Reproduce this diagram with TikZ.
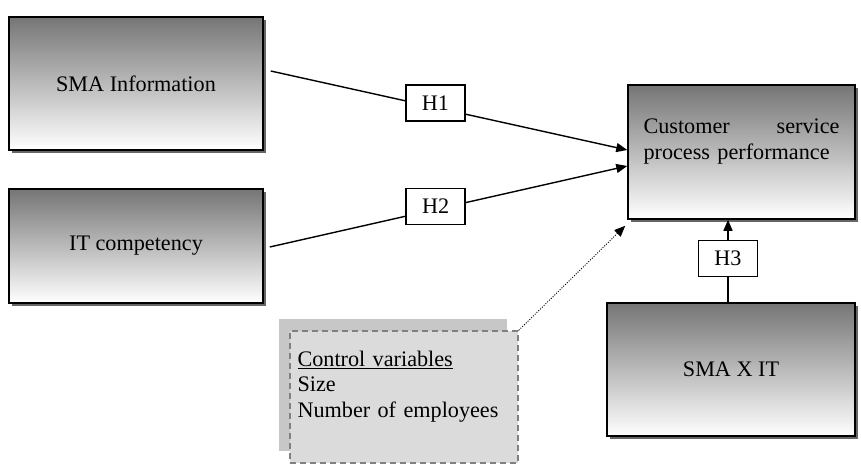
\documentclass[tikz,border=0pt]{standalone}
\usepackage{fontspec}
\setmainfont{Liberation Serif}
\usetikzlibrary{arrows.meta,shadows}

\begin{document}
\begin{tikzpicture}[x=1pt,y=1pt,font=\fontsize{22.2}{25.6}\selectfont,
	var_box/.style={rectangle,draw=black,line width=1.5pt,top color=black!54,bottom color=white,
		drop shadow={shadow xshift=3pt,shadow yshift=-3pt,fill=black!60,opacity=1}},
	hyp_box/.style={rectangle,draw=black,line width=1.3pt,fill=white,minimum width=59pt,minimum height=36pt,inner sep=0pt},
	ctrl_box/.style={rectangle,draw=black!50,line width=1.5pt,dash pattern=on 6pt off 4pt,fill=black!14,
		drop shadow={shadow xshift=-11pt,shadow yshift=12pt,fill=black!22,opacity=1}},
	link/.style={line width=1.4pt,-{Triangle[length=11pt,width=9pt]}}]
		
		\useasboundingbox (0,0) rectangle (861,467);
		
		\node[var_box,minimum width=254pt,minimum height=133pt] (info) at (136,383.5) {SMA Information};
		\node[var_box,minimum width=254pt,minimum height=114pt] (itc) at (136,221) {IT competency};
		\node[var_box,minimum width=227pt,minimum height=134pt,text width=196pt,align=left] (csp) at (741.5,315) {Customer\hfill service\\process performance\\\mbox{}};
		\node[var_box,minimum width=248pt,minimum height=133pt] (smait) at (731,97.5) {SMA X IT};
		\node[ctrl_box,minimum width=228pt,minimum height=132pt,text width=213pt,align=left,inner xsep=7.5pt] (ctrl) at (404,70) {\underline{Control variables}\\Size\\Number of employees\\\mbox{}};
		
		\coordinate (h3_base) at ([xshift=-3pt]smait.north);
		
		\draw[link] ([xshift=7pt,yshift=12.5pt]info.east) -- node[hyp_box,pos=0.462,yshift=4.5pt] (h1) {H1} ([yshift=2pt]csp.west);
		\draw[link] ([xshift=6pt,yshift=-1pt]itc.east) -- node[hyp_box,pos=0.464,yshift=3pt] (h2) {H2} ([yshift=-14pt]csp.west);
		\draw[link] (h3_base) -- node[hyp_box,pos=0.53] (h3) {H3} (h3_base |- csp.south);
		\draw[line width=0.9pt,dash pattern=on 1pt off 1.5pt,-{Triangle[length=11pt,width=9pt]}] (ctrl.north east) -- ([shift={(-2pt,-6pt)}]csp.south west);
		\end{tikzpicture}
\end{document}
